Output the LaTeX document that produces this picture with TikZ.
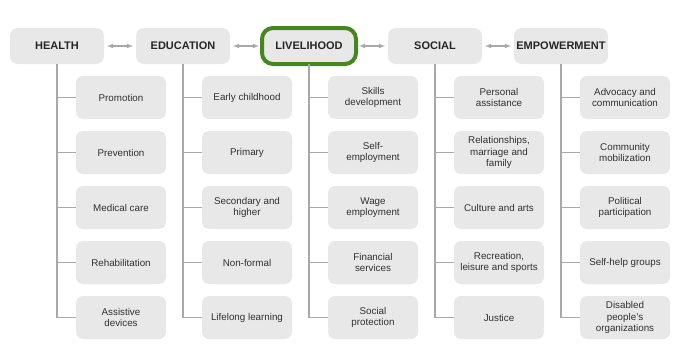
\documentclass[tikz,border=0pt]{standalone}
\usepackage{fontspec}
\setmainfont{Liberation Sans}
\usetikzlibrary{positioning}

\definecolor{boxgray}{HTML}{E8E8E8}
\definecolor{linegray}{HTML}{A8A8A8}
\definecolor{textgray}{HTML}{303030}
\definecolor{focusgreen}{HTML}{46861F}

\begin{document}
\begin{tikzpicture}[
      x=1pt, y=-1pt,
      node distance=12pt,
      every node/.style = {align=center, text=textgray, outer sep=0pt},
      header/.style={fill=boxgray, rounded corners=8pt, minimum width=94pt, minimum height=36pt,
                     inner xsep=1pt, font=\fontsize{11}{13}\selectfont\bfseries, text=black!85},
      focus/.style={draw=focusgreen, line width=4pt, rounded corners=11pt},
      item/.style={fill=boxgray, rounded corners=7pt, minimum width=90pt, minimum height=43pt,
                   inner xsep=1pt, font=\fontsize{9.8}{11.5}\selectfont},
      branch/.style={draw=linegray, line width=1.1pt},
      link/.style={draw=linegray, line width=1.1pt, latex-latex, shorten <=3pt, shorten >=3pt}
    ]
    \useasboundingbox (0,0) rectangle (673,348);

    % top row
    \node (health)      [header] at (57,46)            {HEALTH};
    \node (education)   [header, right=32pt of health]    {EDUCATION};
    \node (livelihood)  [header, focus, right=32pt of education] {LIVELIHOOD};
    \node (social)      [header, right=32pt of livelihood] {SOCIAL};
    \node (empowerment) [header, right=32pt of social]    {EMPOWERMENT};

    % health
    \node (promotion)      [item, below=12pt of health, xshift=64pt] {Promotion};
    \node (prevention)     [item, below=of promotion]                {Prevention};
    \node (medicalcare)    [item, below=of prevention]               {Medical care};
    \node (rehabilitation) [item, below=of medicalcare]              {Rehabilitation};
    \node (assistive)      [item, below=of rehabilitation]           {Assistive\\devices};

    % education
    \node (earlychildhood) [item, below=12pt of education, xshift=64pt] {Early childhood};
    \node (primary)        [item, below=of earlychildhood]              {Primary};
    \node (secondary)      [item, below=of primary]                     {Secondary and\\higher};
    \node (nonformal)      [item, below=of secondary]                   {Non-formal};
    \node (lifelong)       [item, below=of nonformal]                   {Lifelong learning};

    % livelihood
    \node (skills)         [item, below=12pt of livelihood, xshift=64pt] {Skills\\development};
    \node (selfemployment) [item, below=of skills]                       {Self-\\employment};
    \node (wage)           [item, below=of selfemployment]               {Wage\\employment};
    \node (financial)      [item, below=of wage]                         {Financial\\services};
    \node (protection)     [item, below=of financial]                    {Social\\protection};

    % social
    \node (personal)       [item, below=12pt of social, xshift=64pt] {Personal\\assistance};
    \node (relationships)  [item, below=of personal]                 {Relationships,\\marriage and\\family};
    \node (culture)        [item, below=of relationships]            {Culture and arts};
    \node (recreation)     [item, below=of culture]                  {Recreation,\\leisure and sports};
    \node (justice)        [item, below=of recreation]               {Justice};

    % empowerment
    \node (advocacy)       [item, below=12pt of empowerment, xshift=64pt] {Advocacy and\\communication};
    \node (community)      [item, below=of advocacy]                      {Community\\mobilization};
    \node (political)      [item, below=of community]                     {Political\\participation};
    \node (selfhelp)       [item, below=of political]                     {Self-help groups};
    \node (dpo)            [item, below=of selfhelp]                      {Disabled\\people's\\organizations};

    \draw[link] (health)     to (education);
    \draw[link] (education)  to (livelihood);
    \draw[link] (livelihood) to (social);
    \draw[link] (social)     to (empowerment);

    \draw[branch] (health.south) |- (promotion.west);
    \draw[branch] (health.south) |- (prevention.west);
    \draw[branch] (health.south) |- (medicalcare.west);
    \draw[branch] (health.south) |- (rehabilitation.west);
    \draw[branch] (health.south) |- (assistive.west);

    \draw[branch] (education.south) |- (earlychildhood.west);
    \draw[branch] (education.south) |- (primary.west);
    \draw[branch] (education.south) |- (secondary.west);
    \draw[branch] (education.south) |- (nonformal.west);
    \draw[branch] (education.south) |- (lifelong.west);

    \draw[branch] (livelihood.south) |- (skills.west);
    \draw[branch] (livelihood.south) |- (selfemployment.west);
    \draw[branch] (livelihood.south) |- (wage.west);
    \draw[branch] (livelihood.south) |- (financial.west);
    \draw[branch] (livelihood.south) |- (protection.west);

    \draw[branch] (social.south) |- (personal.west);
    \draw[branch] (social.south) |- (relationships.west);
    \draw[branch] (social.south) |- (culture.west);
    \draw[branch] (social.south) |- (recreation.west);
    \draw[branch] (social.south) |- (justice.west);

    \draw[branch] (empowerment.south) |- (advocacy.west);
    \draw[branch] (empowerment.south) |- (community.west);
    \draw[branch] (empowerment.south) |- (political.west);
    \draw[branch] (empowerment.south) |- (selfhelp.west);
    \draw[branch] (empowerment.south) |- (dpo.west);

  \end{tikzpicture}
\end{document}
